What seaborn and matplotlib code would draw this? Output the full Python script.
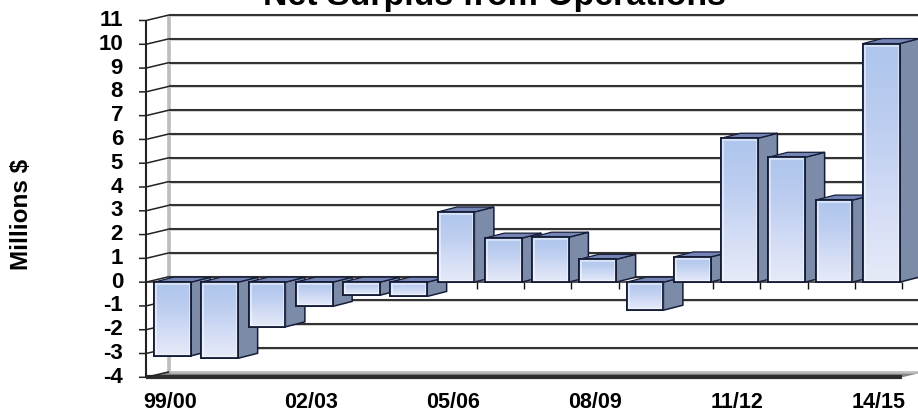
import matplotlib
matplotlib.use("Agg")
import matplotlib.pyplot as plt
from matplotlib.colors import LinearSegmentedColormap
from matplotlib.patches import Polygon
import numpy as np
import pandas as pd
import seaborn as sns

years = ["99/00", "00/01", "01/02", "02/03", "03/04", "04/05", "05/06", "06/07",
         "07/08", "08/09", "09/10", "10/11", "11/12", "12/13", "13/14", "14/15"]
surplus = [-3.1, -3.2, -1.88, -1.02, -0.55, -0.6, 2.95, 1.85,
           1.89, 0.96, -1.18, 1.06, 6.05, 5.25, 3.45, 10.03]
y_ticks = list(range(-4, 12))
shown_years = ["99/00", "02/03", "05/06", "08/09", "11/12", "14/15"]

W, H = 918, 412
DX, DY = 23, 5.5        # depth of the chart box, in pixels
BDX, BDY = 19.5, 5      # depth of a bar, in pixels
EDGE = "#141c38"

sns.set_theme(style="white")
plt.rcParams["font.family"] = ["Liberation Sans", "DejaVu Sans"]
plt.rcParams["font.weight"] = "bold"

fig = plt.figure(figsize=(W / 100, H / 100), dpi=100)
ax = fig.add_axes([146 / W, 1 - 377.3 / H, 756 / W, 356.8 / H])
df = pd.DataFrame({"year": years, "surplus": surplus})
sns.barplot(data=df, x="year", y="surplus", ax=ax, width=0.78, color="#c5d3f2",
            saturation=1, edgecolor=EDGE, linewidth=1.3, zorder=5, errorbar=None)
bars = list(ax.containers[0])

x0, x1 = -0.56, 15.44
ax.set_xlim(x0, x1)
ax.set_ylim(-4, 11)
for s in ax.spines.values():
    s.set_visible(False)
ax.set_xticks([])
ax.set_yticks([])
ax.set_xlabel("")
ax.set_ylabel("")
ax.patch.set_alpha(0)

# Data units per pixel
ux = (x1 - x0) / 756
uy = 15 / 356.8
bx, by = DX * ux, DY * uy
line = dict(clip_on=False, solid_capstyle="butt")

# Floor band, drawn in three tones from back to front
floor = [(x0, -4), (x0 + bx, -4 + by), (x1 + bx, -4 + by), (x1, -4)]
ax.add_patch(Polygon(floor, closed=True, fc="#858585", ec="none", clip_on=False, zorder=2))
ax.plot([x0 + bx, x1 + bx], [-4 + by] * 2, color="#bcbcbc", lw=1.8, zorder=2.1, **line)
ax.plot([x0, x1], [-4, -4], color="#2e2e2e", lw=3.0, zorder=2.1, **line)

# Left wall, back wall and gridlines
ax.plot([x0 + bx] * 2, [-4 + by, 11 + by], color="#bdbdbd", lw=2.6, zorder=1, **line)
ax.plot([x0, x0], [-4, 11], color="#222222", lw=1.5, zorder=3, **line)
for v in y_ticks:
    yb = v + by
    if v > -4:
        ax.plot([x0 + bx, x1 + bx], [yb - uy] * 2, color="#d4d4d4", lw=1.2, zorder=1.1, **line)
        ax.plot([x0 + bx, x1 + bx], [yb, yb], color="#333333", lw=1.5, zorder=1.2, **line)
    ax.plot([x0 - 7 * ux, x0, x0 + bx], [v, v, yb], color="#222222", lw=1.1, zorder=3, **line)

# Zero line and the tick marks hanging from it
ax.plot([x0, x1], [0, 0], color="#555555", lw=1.4, zorder=2.4, **line)
for i in range(1, 17):
    xt = x0 + i * (x1 - x0) / 16
    ax.plot([xt, xt], [0, -6.5 * uy], color="#111111", lw=1.0, zorder=2.5, **line)

grad = LinearSegmentedColormap.from_list("barface", ["#e6ebf8", "#d2dcf5", "#bccdf0", "#aec5ec"])
ramp = np.linspace(1, 0, 128).reshape(-1, 1)

for patch, val in zip(bars, surplus):
    left = patch.get_x()
    right = left + patch.get_width()
    top, bottom = max(val, 0), min(val, 0)
    corners = [(left, bottom), (left, top), (right, top), (right, bottom)]

    # Face gradient and soft inner rim, both clipped to the bar
    face = ax.imshow(ramp, extent=(left, right, bottom, top), cmap=grad, vmin=0, vmax=1,
                     aspect="auto", zorder=5.1, interpolation="bilinear")
    face.set_clip_path(patch)
    rim = Polygon(corners, closed=True, fc="none", ec="white", lw=3.5, alpha=0.5, zorder=5.15)
    ax.add_patch(rim)
    rim.set_clip_path(patch)

    ddx, ddy = BDX * ux, BDY * uy
    ax.add_patch(Polygon([(right, bottom), (right + ddx, bottom + ddy), (right + ddx, top + ddy), (right, top)],
                         closed=True, fc="#7c8ba8", ec=EDGE, lw=1.1, clip_on=False, zorder=4))
    ax.add_patch(Polygon([(left, top), (left + ddx, top + ddy), (right + ddx, top + ddy), (right, top)],
                         closed=True, fc="#7484b4", ec=EDGE, lw=0.9, clip_on=False, zorder=4))
    ax.add_patch(Polygon(corners, closed=True, fc="none", ec=EDGE, lw=1.3, zorder=5.2))

ax.set_xlim(x0, x1)
ax.set_ylim(-4, 11)

for v in y_ticks:
    ax.text(x0 - 23 * ux, v, str(v), ha="right", va="center", fontsize=16, fontweight="bold",
            color="black", clip_on=False)
for lab in shown_years:
    ax.text(years.index(lab) - 0.06, -4 - 25 * uy, lab, ha="center", va="center",
            fontsize=15.5, fontweight="bold", color="black", clip_on=False)

fig.text(494 / W, 1 - 4.5 / H, "Net Surplus from Operations", ha="center", va="baseline",
         fontsize=24.4, fontweight="bold", color="black")
fig.text(22 / W, 1 - 214 / H, "Millions $", rotation=90, ha="center", va="center",
         fontsize=17.5, fontweight="bold", color="black")

fig.savefig("out.png", dpi=100)
